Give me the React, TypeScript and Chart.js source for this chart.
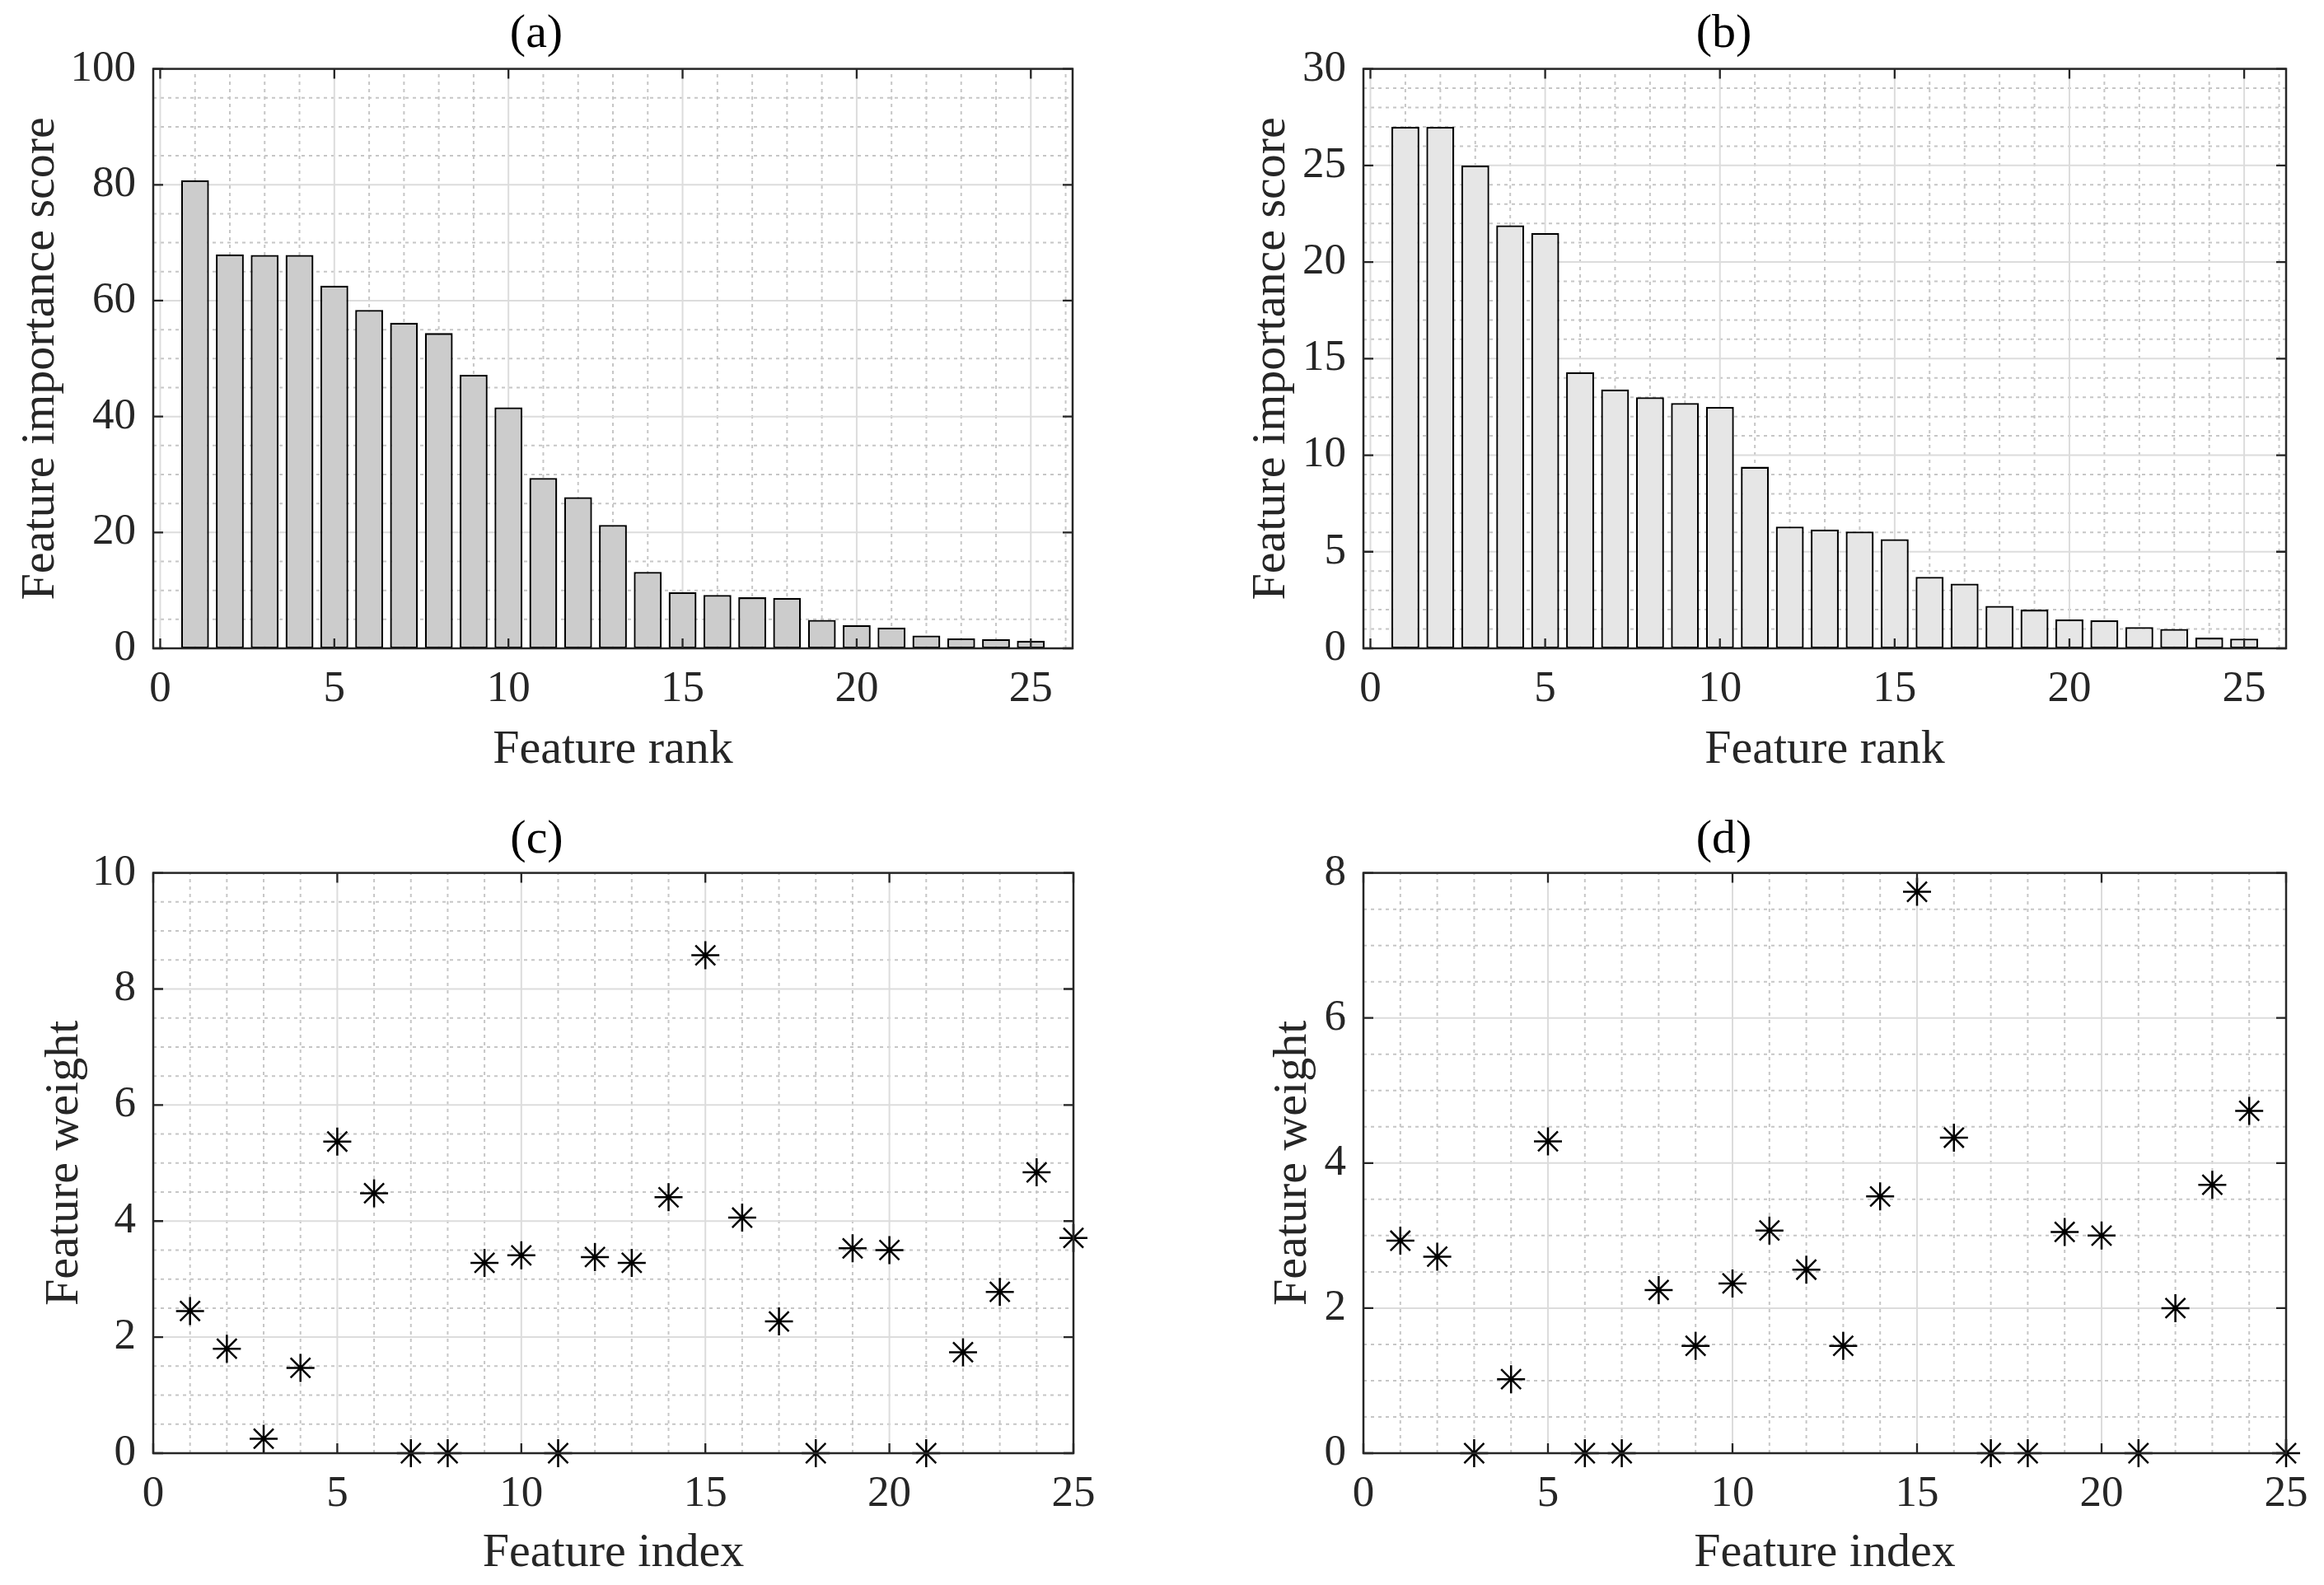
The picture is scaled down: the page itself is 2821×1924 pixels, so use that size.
import React, { useEffect, useRef } from "react";
import { Chart, registerables } from "chart.js";

Chart.register(...registerables);

// ---------------- data ----------------
const FEATURES = [1, 2, 3, 4, 5, 6, 7, 8, 9, 10, 11, 12, 13, 14, 15, 16, 17, 18, 19, 20, 21, 22, 23, 24, 25];

const SCORE_A = [80.8, 68.0, 67.9, 67.9, 62.6, 58.4, 56.2, 54.4, 47.2, 41.6, 29.4, 26.1, 21.3, 13.2, 9.7, 9.2, 8.8, 8.7, 4.9, 4.0, 3.6, 2.2, 1.7, 1.6, 1.3];
const SCORE_B = [27.0, 27.0, 25.0, 21.9, 21.5, 14.3, 13.4, 13.0, 12.7, 12.5, 9.4, 6.3, 6.15, 6.05, 5.65, 3.7, 3.35, 2.2, 2.0, 1.5, 1.45, 1.1, 1.0, 0.55, 0.5];
const WEIGHT_C = [2.45, 1.8, 0.25, 1.47, 5.37, 4.48, 0, 0, 3.28, 3.41, 0, 3.38, 3.28, 4.41, 8.58, 4.06, 2.27, 0, 3.53, 3.5, 0, 1.74, 2.78, 4.84, 3.71];
const WEIGHT_D = [2.93, 2.71, 0, 1.02, 4.3, 0, 0, 2.25, 1.48, 2.34, 3.07, 2.53, 1.48, 3.54, 7.74, 4.35, 0, 0, 3.05, 3.0, 0, 2.0, 3.7, 4.72, 0];

const X_TICKS = [0, 5, 10, 15, 20, 25];
const Y_TICKS_A = [0, 20, 40, 60, 80, 100];
const Y_TICKS_B = [0, 5, 10, 15, 20, 25, 30];
const Y_TICKS_C = [0, 2, 4, 6, 8, 10];
const Y_TICKS_D = [0, 2, 4, 6, 8];

const TITLES = ["(a)", "(b)", "(c)", "(d)"];
const X_LABELS = ["Feature rank", "Feature rank", "Feature index", "Feature index"];
const Y_LABELS = ["Feature importance score", "Feature importance score", "Feature weight", "Feature weight"];

// ---------------- styling ----------------
const FONT = "'Liberation Serif', 'Times New Roman', Times, serif";
const AXIS_COLOR = "#262626";
const TICK_SIZE = 53;
const LABEL_SIZE = 58;

type PanelCfg = {
  kind: "bar" | "scatter";
  values: number[];
  fill: string;
  xMin: number;
  xMax: number;
  yMax: number;
  yTicks: number[];
  yMinor: number;
  title: string;
  xLabel: string;
  yLabel: string;
  left: number;
  top: number;
  w: number;
  h: number;
  yAxisW: number;
  xAxisH: number;
  padRight: number;
  titlePadTop: number;
  titlePadBottom: number;
  yTitlePad: number;
  xTitlePad: number;
};

function isMajor(v: number, ticks: number[]) {
  return ticks.some((t) => Math.abs(t - v) < 1e-6);
}

function framePlugin(cfg: PanelCfg) {
  return {
    id: "matlabFrame",
    beforeDatasetsDraw(chart: any) {
      const { ctx, chartArea: a, scales } = chart;
      const xs = scales.x;
      const ys = scales.y;
      ctx.save();
      ctx.beginPath();
      ctx.rect(a.left, a.top, a.right - a.left, a.bottom - a.top);
      ctx.clip();
      // minor grid (dotted)
      ctx.strokeStyle = "#c6c6c6";
      ctx.lineWidth = 2;
      ctx.setLineDash([4, 5]);
      for (let v = Math.ceil(cfg.xMin); v <= cfg.xMax + 1e-9; v += 1) {
        if (isMajor(v, X_TICKS)) continue;
        const p = xs.getPixelForValue(v);
        ctx.beginPath();
        ctx.moveTo(p, a.bottom);
        ctx.lineTo(p, a.top);
        ctx.stroke();
      }
      for (let v = 0; v <= cfg.yMax + 1e-9; v += cfg.yMinor) {
        if (isMajor(v, cfg.yTicks)) continue;
        const p = ys.getPixelForValue(v);
        ctx.beginPath();
        ctx.moveTo(a.left, p);
        ctx.lineTo(a.right, p);
        ctx.stroke();
      }
      // major grid (solid)
      ctx.setLineDash([]);
      ctx.strokeStyle = "#dcdcdc";
      ctx.lineWidth = 2;
      for (const v of X_TICKS) {
        const p = xs.getPixelForValue(v);
        ctx.beginPath();
        ctx.moveTo(p, a.bottom);
        ctx.lineTo(p, a.top);
        ctx.stroke();
      }
      for (const v of cfg.yTicks) {
        const p = ys.getPixelForValue(v);
        ctx.beginPath();
        ctx.moveTo(a.left, p);
        ctx.lineTo(a.right, p);
        ctx.stroke();
      }
      ctx.restore();
    },
    afterDatasetsDraw(chart: any) {
      const { ctx, chartArea: a, scales } = chart;
      const xs = scales.x;
      const ys = scales.y;
      const tl = 12;
      ctx.save();
      ctx.strokeStyle = AXIS_COLOR;
      ctx.lineWidth = 2.3;
      ctx.beginPath();
      for (const v of X_TICKS) {
        const p = xs.getPixelForValue(v);
        ctx.moveTo(p, a.bottom);
        ctx.lineTo(p, a.bottom - tl);
        ctx.moveTo(p, a.top);
        ctx.lineTo(p, a.top + tl);
      }
      for (const v of cfg.yTicks) {
        const p = ys.getPixelForValue(v);
        ctx.moveTo(a.left, p);
        ctx.lineTo(a.left + tl, p);
        ctx.moveTo(a.right, p);
        ctx.lineTo(a.right - tl, p);
      }
      ctx.stroke();
      ctx.lineWidth = 2.5;
      ctx.strokeRect(a.left, a.top, a.right - a.left, a.bottom - a.top);
      ctx.restore();
    },
  };
}

function buildConfig(cfg: PanelCfg): any {
  const points = FEATURES.map((f, i) => ({ x: f, y: cfg.values[i] }));
  const dataset =
    cfg.kind === "bar"
      ? {
          data: points,
          backgroundColor: cfg.fill,
          borderColor: "#000000",
          borderWidth: 2.3,
          borderSkipped: false,
          barPercentage: 0.8,
          categoryPercentage: 1,
        }
      : {
          data: points,
          showLine: false,
          pointStyle: "star",
          pointRadius: 17,
          pointBorderColor: "#000000",
          pointBackgroundColor: "#000000",
          pointBorderWidth: 2.5,
          clip: false,
        };
  return {
    type: cfg.kind,
    data: { datasets: [dataset] },
    options: {
      animation: false,
      responsive: false,
      devicePixelRatio: 1,
      events: [],
      layout: { padding: { left: 0, top: 0, right: cfg.padRight, bottom: 0 } },
      plugins: {
        legend: { display: false },
        tooltip: { enabled: false },
        title: {
          display: true,
          text: cfg.title,
          color: "#000000",
          font: { family: FONT, size: LABEL_SIZE, weight: "normal", lineHeight: 1.2 },
          padding: { top: cfg.titlePadTop, bottom: cfg.titlePadBottom },
        },
      },
      scales: {
        x: {
          type: "linear",
          position: "bottom",
          min: cfg.xMin,
          max: cfg.xMax,
          offset: false,
          grid: { display: false, drawTicks: false },
          border: { display: false },
          afterBuildTicks: (s: any) => {
            s.ticks = X_TICKS.map((v) => ({ value: v }));
          },
          afterFit: (s: any) => {
            s.height = cfg.xAxisH;
          },
          ticks: {
            autoSkip: false,
            maxRotation: 0,
            padding: 18,
            color: AXIS_COLOR,
            font: { family: FONT, size: TICK_SIZE, lineHeight: 1.2 },
            callback: (v: any) => String(v),
          },
          title: {
            display: true,
            text: cfg.xLabel,
            color: AXIS_COLOR,
            font: { family: FONT, size: LABEL_SIZE, lineHeight: 1.2 },
            padding: { top: 0, bottom: cfg.xTitlePad },
          },
        },
        y: {
          type: "linear",
          position: "left",
          min: 0,
          max: cfg.yMax,
          grid: { display: false, drawTicks: false },
          border: { display: false },
          afterBuildTicks: (s: any) => {
            s.ticks = cfg.yTicks.map((v) => ({ value: v }));
          },
          afterFit: (s: any) => {
            s.width = cfg.yAxisW;
          },
          ticks: {
            autoSkip: false,
            padding: 21,
            color: AXIS_COLOR,
            font: { family: FONT, size: TICK_SIZE, lineHeight: 1.2 },
            callback: (v: any) => String(v),
          },
          title: {
            display: true,
            text: cfg.yLabel,
            color: AXIS_COLOR,
            font: { family: FONT, size: LABEL_SIZE, lineHeight: 1.2 },
            padding: { top: cfg.yTitlePad, bottom: 0 },
          },
        },
      },
    },
    plugins: [framePlugin(cfg)],
  };
}

function Panel({ cfg }: { cfg: PanelCfg }) {
  const ref = useRef<HTMLCanvasElement>(null);
  useEffect(() => {
    const chart = new Chart(ref.current as HTMLCanvasElement, buildConfig(cfg));
    return () => chart.destroy();
  }, []);
  return (
    <div style={{ position: "absolute", left: cfg.left, top: cfg.top, width: cfg.w, height: cfg.h }}>
      <canvas ref={ref} width={cfg.w} height={cfg.h} style={{ width: cfg.w, height: cfg.h, display: "block" }} />
    </div>
  );
}

const PANELS: PanelCfg[] = [
  {
    kind: "bar", values: SCORE_A, fill: "#cccccc", xMin: -0.2, xMax: 26.2, yMax: 100, yTicks: Y_TICKS_A, yMinor: 5,
    title: TITLES[0], xLabel: X_LABELS[0], yLabel: Y_LABELS[0],
    left: 0, top: 0, w: 1410, h: 962, yAxisW: 186, xAxisH: 175, padRight: 108,
    titlePadTop: 7, titlePadBottom: 7, yTitlePad: 15, xTitlePad: 16,
  },
  {
    kind: "bar", values: SCORE_B, fill: "#e6e6e6", xMin: -0.2, xMax: 26.2, yMax: 30, yTicks: Y_TICKS_B, yMinor: 1,
    title: TITLES[1], xLabel: X_LABELS[1], yLabel: Y_LABELS[1],
    left: 1410, top: 0, w: 1411, h: 962, yAxisW: 245, xAxisH: 175, padRight: 46,
    titlePadTop: 7, titlePadBottom: 7, yTitlePad: 99, xTitlePad: 16,
  },
  {
    kind: "scatter", values: WEIGHT_C, fill: "#000000", xMin: 0, xMax: 25, yMax: 10, yTicks: Y_TICKS_C, yMinor: 0.5,
    title: TITLES[2], xLabel: X_LABELS[2], yLabel: Y_LABELS[2],
    left: 0, top: 962, w: 1410, h: 962, yAxisW: 186, xAxisH: 160, padRight: 107,
    titlePadTop: 23, titlePadBottom: 5, yTitlePad: 44, xTitlePad: 3,
  },
  {
    kind: "scatter", values: WEIGHT_D, fill: "#000000", xMin: 0, xMax: 25, yMax: 8, yTicks: Y_TICKS_D, yMinor: 0.5,
    title: TITLES[3], xLabel: X_LABELS[3], yLabel: Y_LABELS[3],
    left: 1410, top: 962, w: 1411, h: 962, yAxisW: 245, xAxisH: 160, padRight: 46,
    titlePadTop: 23, titlePadBottom: 5, yTitlePad: 125, xTitlePad: 3,
  },
];

export default function App() {
  return (
    <div style={{ position: "absolute", left: 0, top: 0, width: 2821, height: 1924, background: "#ffffff", overflow: "hidden" }}>
      {PANELS.map((p, i) => (
        <Panel key={i} cfg={p} />
      ))}
    </div>
  );
}
